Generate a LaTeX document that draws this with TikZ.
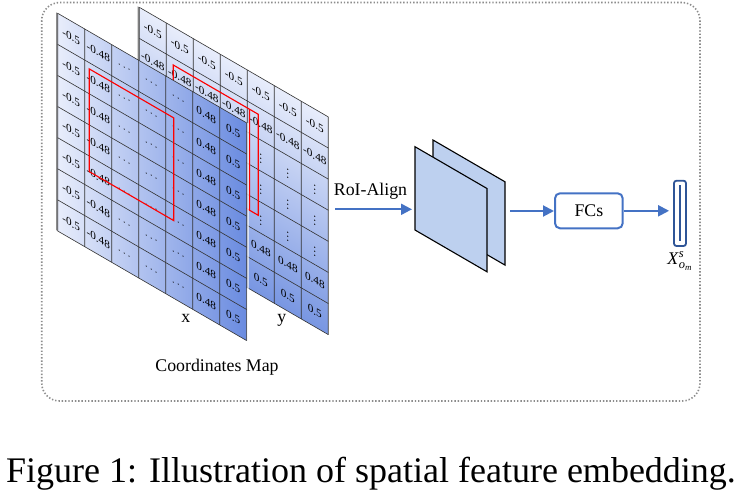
\documentclass[tikz,border=0pt]{standalone}
\usepackage{amsmath}
\usepackage{fontspec}
\setmainfont{Liberation Serif}
\usetikzlibrary{arrows.meta}
\definecolor{gl}{HTML}{E8EDFB}
\definecolor{gdx}{HTML}{6A8BE0}
\definecolor{gdy}{HTML}{7896E2}
\definecolor{arrowblue}{HTML}{4472C4}
\definecolor{vecblue}{HTML}{2F5597}
\definecolor{mapfill}{HTML}{BDD0EF}
\definecolor{framegray}{HTML}{8C8C8C}
\begin{document}
\begin{tikzpicture}[x=1pt,y=1pt,
  gridline/.style={draw=black!80, line width=0.7pt},
  celltext/.style={font=\fontsize{11.2}{12}\selectfont, inner sep=0pt},
  lbl/.style={font=\fontsize{17.8}{20}\selectfont, inner sep=0pt},
  redbox/.style={draw=red, line width=1.3pt},
  flow/.style={draw=arrowblue, line width=2pt, -{Triangle[length=11pt,width=11pt]}},
  fmap/.style={draw=black, fill=mapfill, line width=1.1pt, line join=miter},
  shadowedge/.style={draw=black!45, line width=1.6pt}
]
\useasboundingbox (0,0) rectangle (740,-499);

% dotted frame
\draw[framegray, line width=1.6pt, dash pattern=on 1.4pt off 1.9pt, rounded corners=18pt]
  (41.7,-2.5) rectangle (700,-401);

% ---------- y coordinate map (back) ----------
\begin{scope}[transform canvas={cm={1,-0.58,0,1,(139.3pt,-7.3pt)}}]
  \draw[shadowedge] (-0.9,0) -- (-0.9,-217.7);
  \shade[top color=gl, bottom color=gdy] (0,0) rectangle (189,-217.7);
  \foreach \i in {0,...,7} \draw[gridline] ({27*\i},0) -- ({27*\i},-217.7);
  \foreach \j in {0,...,7} \draw[gridline] (0,{-31.1*\j}) -- (189,{-31.1*\j});
  \foreach \j/\t in {0/{-0.5},1/{-0.48},2/{$\vdots$},3/{$\vdots$},4/{$\vdots$},5/{0.48},6/{0.5}}
    \foreach \i in {0,...,6}
      \node[celltext] (yc-\i-\j) at ({27*\i+13.5},{-31.1*\j-15.55}) {\t};
  \draw[redbox] (34,-38) rectangle (119,-139);
  \draw[red, line width=1.3pt] (110.1,-38) -- (110.1,-139);
\end{scope}

% ---------- x coordinate map (front) ----------
\begin{scope}[transform canvas={cm={1,-0.58,0,1,(57.7pt,-13.3pt)}}]
  \draw[shadowedge] (-0.9,0) -- (-0.9,-217.7);
  \shade[left color=gl, right color=gdx] (0,0) rectangle (189,-217.7);
  \foreach \i in {0,...,7} \draw[gridline] ({27*\i},0) -- ({27*\i},-217.7);
  \foreach \j in {0,...,7} \draw[gridline] (0,{-31.1*\j}) -- (189,{-31.1*\j});
  \draw[white, line width=1.2pt] (190.2,0.5) -- (190.2,-218.2);
  \foreach \i/\t in {0/{-0.5},1/{-0.48},2/{$\cdots$},3/{$\cdots$},4/{$\cdots$},5/{0.48},6/{0.5}}
    \foreach \j in {0,...,6}
      \node[celltext] (xc-\i-\j) at ({27*\i+13.5},{-31.1*\j-15.55}) {\t};
  \draw[redbox] (31.6,-37.3) rectangle (116,-140);
\end{scope}

% labels of the maps
\node[lbl, anchor=base] (xlab) at (185.7,-322.7) {x};
\node[lbl, anchor=base] (ylab) at (281.7,-322.7) {y};
\node[lbl, anchor=base] (cmap) at (217,-371.7) {Coordinates Map};

% ---------- RoI feature maps ----------
\draw[fmap] (433,-140) -- (505,-181.8) -- (505,-265.1) -- (433,-223.3) -- cycle;
\draw[fmap] (415,-146.7) -- (487,-188.5) -- (487,-271.8) -- (415,-230) -- cycle;

\coordinate (roistart) at (335,-209.3);
\coordinate (fmin) at (412,-209.3);
\coordinate (fmout) at (510,-211);

\node[lbl, anchor=base] (roilbl) at (370.5,-195.3) {RoI-Align};
\draw[flow] (roistart) -- (fmin);

% ---------- FCs ----------
\node[lbl, draw=arrowblue, line width=2pt, rounded corners=5pt,
      minimum width=67.7pt, minimum height=35pt] (fcs) at (588.85,-210.8) {FCs};
\draw[flow] (fmout) -- (fmout -| fcs.west);

% ---------- output vector ----------
\node[draw=vecblue, line width=1.8pt, rounded corners=2.5pt, inner sep=0pt,
      minimum width=12pt, minimum height=65.3pt] (vec) at (680,-213.35) {};
\draw[vecblue, line width=1.6pt] ([yshift=-5.5pt]vec.north) -- ([yshift=5.5pt]vec.south);
\draw[flow, shorten >=4pt] (fcs.east) -- (fcs.east -| vec.west);
\node[lbl, anchor=base] (veclbl) at (680,-264) {\textit{X}$^{\textit{s}}_{\textit{o}_{\textit{m}}}$};

% ---------- caption ----------
\node[font=\fontsize{36}{40}\selectfont, anchor=base, inner sep=0pt] (cap) at (371,-482.7)
  {Figure 1: Illustration of spatial feature embedding.};
\end{tikzpicture}
\end{document}
